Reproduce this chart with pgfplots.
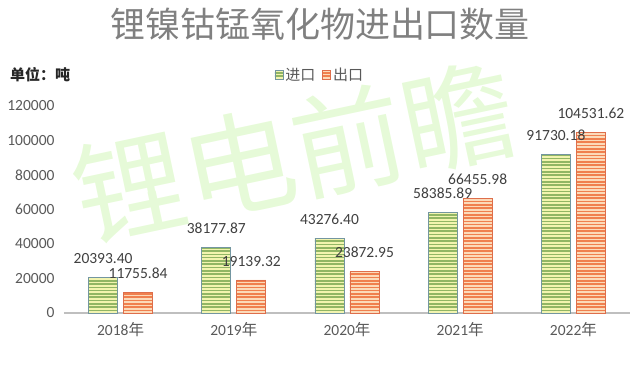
\documentclass[border=0pt]{standalone}
\usepackage{pgfplots}
\pgfplotsset{compat=1.18}
\usepackage{fontspec}
\setmainfont{Carlito}
\newfontfamily\cjk{Noto Sans CJK SC}
\usetikzlibrary{patterns}
\pgfdeclarepatternformonly{hstripes}{\pgfpoint{-1pt}{0pt}}{\pgfpoint{121pt}{3.3pt}}{\pgfpoint{120pt}{3.3pt}}{%
  \pgfpathrectangle{\pgfpoint{-1pt}{0pt}}{\pgfpoint{122pt}{1.65pt}}\pgfusepath{fill}}
\definecolor{impfill}{RGB}{242,244,175}
\definecolor{impline}{RGB}{145,182,100}
\definecolor{impedge}{RGB}{115,150,160}
\definecolor{expfill}{RGB}{252,218,185}
\definecolor{expline}{RGB}{240,128,78}
\definecolor{expedge}{RGB}{222,110,75}
\definecolor{txt}{RGB}{64,64,64}
\definecolor{ticktxt}{RGB}{89,89,89}
\definecolor{wm}{RGB}{150,235,90}
\begin{document}
\begin{tikzpicture}
\useasboundingbox (-64pt,-61pt) rectangle (576pt,313pt);
\begin{axis}[
  at={(0pt,0pt)}, anchor=south west,
  scale only axis, width=566pt, height=207pt,
  xmin=-0.5, xmax=4.5, ymin=0, ymax=120000,
  ybar=6pt, bar width=29pt,
  xtick={0,1,2,3,4},
  xticklabels={2018{\cjk 年},2019{\cjk 年},2020{\cjk 年},2021{\cjk 年},2022{\cjk 年}},
  ytick={0,20000,40000,60000,80000,100000,120000},
  scaled y ticks=false,
  /pgf/number format/assume math mode=true,
  yticklabel={\pgfmathprintnumber[fixed,1000 sep={}]{\tick}},
  separate axis lines,
  axis x line*=bottom, axis y line*=left,
  x axis line style={draw=black!25, line width=1.6pt, -},
  y axis line style={draw=none},
  major tick length=0pt,
  tick label style={font=\fontsize{15.5}{16}\selectfont, color=ticktxt},
  yticklabel style={xshift=-6pt},
  xticklabel style={yshift=-6pt},
  nodes near coords,
  point meta=explicit symbolic,
  every node near coord/.append style={font=\fontsize{15.5}{16}\selectfont, color=txt, yshift=10pt},
  legend columns=2,
  legend style={at={(rel axis cs:0.452,1.15)}, anchor=center, draw=none, fill=none,
    font=\cjk\fontsize{15}{16}\selectfont, text=ticktxt,
    /tikz/every even column/.append style={column sep=5pt}},
  legend image code/.code={\draw[#1] (0pt,-4pt) rectangle (8pt,4.5pt);},
  clip=false,
]
\addplot[preaction={fill=impfill}, pattern=hstripes, pattern color=impline, draw=impedge, line width=0.8pt]
coordinates {(0,20393.40) [20393.40] (1,38177.87) [38177.87] (2,43276.40) [43276.40] (3,58385.89) [58385.89] (4,91730.18) [91730.18]};
\addlegendentry{进口}
\addplot[preaction={fill=expfill}, pattern=hstripes, pattern color=expline, draw=expedge, line width=0.8pt]
coordinates {(0,11755.84) [11755.84] (1,19139.32) [19139.32] (2,23872.95) [23872.95] (3,66455.98) [66455.98] (4,104531.62) [104531.62]};
\addlegendentry{出口}
\end{axis}
\node[font=\cjk\fontsize{35}{36}\selectfont, color=black!50] at (256pt,289pt) {锂镍钴锰氧化物进出口数量};
\node[font=\cjk\bfseries\fontsize{15}{16}\selectfont, color=black!85, anchor=west, inner sep=0pt] at (-54pt,238pt) {单位：吨};
\node[font=\cjk\fontsize{112}{112}\selectfont, color=wm, opacity=0.24, rotate=12] at (230pt,161pt) {锂电前瞻};
\end{tikzpicture}
\end{document}
